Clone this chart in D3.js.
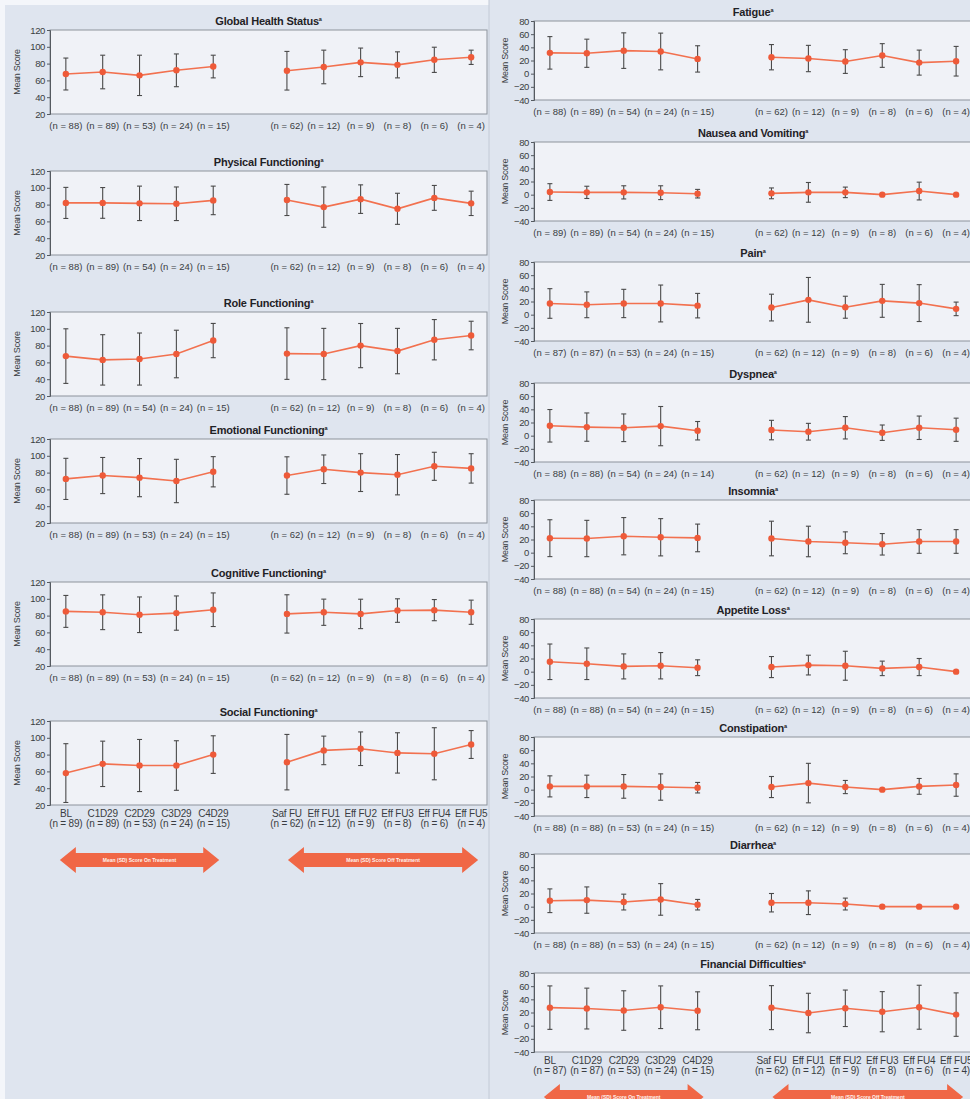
<!DOCTYPE html>
<html>
<head>
<meta charset="utf-8">
<script src="https://cdn.jsdelivr.net/npm/d3@7"></script>
<style>
  body { margin: 0; background: #ffffff; }
  svg { display: block; font-family: "Liberation Sans", Arial, sans-serif; }
</style>
</head>
<body>
<svg id="chart" width="970" height="1099"></svg>
<script>
// ---- Visits (x categories) ----
const onVisits = ["BL", "C1D29", "C2D29", "C3D29", "C4D29"];
const offVisits = ["Saf FU", "Eff FU1", "Eff FU2", "Eff FU3", "Eff FU4", "Eff FU5"];
const offN = [62, 12, 9, 8, 6, 4];

// ---- Tick labels ----
const functionTicks = [20, 40, 60, 80, 100, 120];
const symptomTicks = [-40, -20, 0, 20, 40, 60, 80];

// ---- Functional scales: mean, SD, on-treatment n ----
const ghsMean = [67.6, 70, 66, 72, 76.5, 71.5, 76, 81.5, 78.5, 84.5, 87.5];
const ghsSD   = [19, 20, 24, 19.5, 13.5, 23, 20, 17, 15.5, 15, 8.5];
const ghsN    = [88, 89, 53, 24, 15];

const physMean = [82, 82, 81.5, 81, 85, 85.5, 77, 86.5, 75, 88, 81.5];
const physSD   = [18.5, 18.3, 20.5, 20, 17, 18.5, 24, 17, 18.5, 14.8, 14.5];
const physN    = [88, 89, 54, 24, 15];

const roleMean = [67.5, 63, 64, 70, 86, 70.5, 70, 80, 73.5, 87, 92];
const roleSD   = [32.5, 30, 31, 28.3, 20.4, 30.7, 30.5, 26.3, 27, 24, 17];
const roleN    = [88, 89, 54, 24, 15];

const emoMean = [72.5, 76.5, 74, 70, 81, 76.5, 84, 80, 77.5, 87.5, 85];
const emoSD   = [24.5, 21.5, 22.7, 25.8, 18, 22.3, 17, 22.5, 24, 16.7, 17.5];
const emoN    = [88, 89, 53, 24, 15];

const cogMean = [85, 84, 81, 83, 87, 82, 84, 82, 86, 86.5, 84];
const cogSD   = [19, 20.7, 21.2, 20.4, 20, 22.8, 15.6, 17.5, 14, 12.6, 14.4];
const cogN    = [88, 89, 53, 24, 15];

const socMean = [58, 69, 67, 67, 80, 71, 85, 87, 82, 81, 92];
const socSD   = [35, 27, 31, 29.5, 22.4, 33, 17, 20, 24, 31, 16.6];
const socN    = [89, 89, 53, 24, 15];

// ---- Symptom scales ----
const fatMean = [31.6, 31, 35, 33.7, 22.4, 25, 23, 18.4, 27.6, 16.8, 18.9];
const fatSD   = [24.7, 21.4, 27, 27.9, 20, 19.2, 20, 18, 18, 19, 22.5];
const fatN    = [88, 89, 54, 24, 15];

const nvMean = [4, 3.5, 3.5, 3, 1.5, 2, 3.5, 3.5, 0, 5.5, 0];
const nvSD   = [12.7, 9.3, 10, 10.5, 6.5, 8.2, 15, 8, 0, 13.5, 0];
const nvN    = [89, 89, 54, 24, 15];

const painMean = [17, 15, 17, 17, 13.7, 10.8, 22.5, 11.3, 21, 17.6, 8.8];
const painSD   = [22.5, 19.6, 21.5, 28, 18.6, 20.3, 34, 16.7, 25, 28, 10.3];
const painN    = [87, 87, 53, 24, 15];

const dysMean = [15, 13, 12, 14.5, 7.5, 8.5, 6, 12, 4.5, 12, 9];
const dysSD   = [24.7, 21.5, 21, 29.8, 14, 14.8, 12.7, 17, 11.7, 17.8, 17.6];
const dysN    = [88, 88, 54, 24, 14];

const insMean = [22, 21.5, 25, 23.4, 22.4, 21.5, 17, 15, 12.7, 17, 17];
const insSD   = [28, 27.6, 28.3, 28.3, 21, 26.3, 23.2, 16.6, 16.3, 18, 18];
const insN    = [88, 88, 54, 24, 15];

const appMean = [15, 12, 8, 9, 6, 7, 10, 9, 5, 7, 0];
const appSD   = [27, 24, 19, 20, 12, 16, 15, 22, 11, 13, 0];
const appN    = [88, 88, 54, 24, 15];

const conMean = [5, 5, 5, 4, 3, 4, 10, 4, 0, 5, 7];
const conSD   = [16, 17, 18, 20, 8, 16, 30, 10, 0, 12, 17];
const conN    = [88, 88, 53, 24, 15];

const diaMean = [9, 10, 7, 11, 3, 6, 6, 4, 0, 0, 0];
const diaSD   = [18, 20, 12, 24, 8, 14, 18, 9, 0, 0, 0];
const diaN    = [88, 88, 53, 24, 15];

const finMean = [27.4, 26, 23, 28, 22.6, 27.4, 19.2, 26.4, 21.2, 28, 16.8];
const finSD   = [33, 31, 30, 32.4, 28.8, 33.4, 30, 27.7, 30.5, 33.4, 33];
const finN    = [87, 87, 53, 24, 15];

const arrowLabels = ["Mean (SD) Score On Treatment", "Mean (SD) Score Off Treatment"];

// ---- Panel definitions (content) ----
const leftPanels = [
  { title: "Global Health Status", mean: ghsMean, sd: ghsSD, n: ghsN },
  { title: "Physical Functioning", mean: physMean, sd: physSD, n: physN },
  { title: "Role Functioning", mean: roleMean, sd: roleSD, n: roleN },
  { title: "Emotional Functioning", mean: emoMean, sd: emoSD, n: emoN },
  { title: "Cognitive Functioning", mean: cogMean, sd: cogSD, n: cogN },
  { title: "Social Functioning", mean: socMean, sd: socSD, n: socN }
];
const rightPanels = [
  { title: "Fatigue", mean: fatMean, sd: fatSD, n: fatN },
  { title: "Nausea and Vomiting", mean: nvMean, sd: nvSD, n: nvN },
  { title: "Pain", mean: painMean, sd: painSD, n: painN },
  { title: "Dyspnea", mean: dysMean, sd: dysSD, n: dysN },
  { title: "Insomnia", mean: insMean, sd: insSD, n: insN },
  { title: "Appetite Loss", mean: appMean, sd: appSD, n: appN },
  { title: "Constipation", mean: conMean, sd: conSD, n: conN },
  { title: "Diarrhea", mean: diaMean, sd: diaSD, n: diaN },
  { title: "Financial Difficulties", mean: finMean, sd: finSD, n: finN }
];

// ---- Layout ----
const leftCol = { x0: 50, x1: 487, h: 84, tops: [30, 171, 312, 439, 582, 721],
                  domain: [20, 120], ticks: functionTicks, ylabX: 17, arrowY: 860 };
const rightCol = { x0: 534, x1: 972, h: 79, tops: [21, 142, 262, 383, 500, 619, 737, 854, 973],
                   domain: [-40, 80], ticks: symptomTicks, ylabX: 505, arrowY: 1097 };

const COLORS = {
  page: "#dfe5ef", plot: "#f0f2f7", frame: "#8d939c", axis: "#555a60",
  text: "#3a3d42", err: "#4a4a4a", line: "#f2714f", dot: "#ee5a39", arrow: "#f06746"
};

const svg = d3.select("#chart");

// backgrounds
svg.append("rect").attr("width", 970).attr("height", 1099).attr("fill", COLORS.page);
svg.append("rect").attr("x", 0).attr("y", 0).attr("width", 489).attr("height", 5).attr("fill", "#f4f6fa");
svg.append("rect").attr("x", 0).attr("y", 0).attr("width", 5).attr("height", 1099).attr("fill", "#f4f6fa");
svg.append("line").attr("x1", 489).attr("x2", 489).attr("y1", 0).attr("y2", 1099)
   .attr("stroke", "#c3cad6").attr("stroke-width", 1);

const slots = [...onVisits, "__gap__", ...offVisits];

function drawColumn(col, panels) {
  const x = d3.scalePoint().domain(slots).range([col.x0, col.x1]).padding(0.43);
  const onIdx = onVisits.map((_, i) => i);
  const offIdx = offVisits.map((_, i) => i + onVisits.length);
  const visitOf = i => i < onVisits.length ? onVisits[i] : offVisits[i - onVisits.length];

  panels.forEach((p, pi) => {
    const top = col.tops[pi];
    const y = d3.scaleLinear().domain(col.domain).range([top + col.h, top]);
    const g = svg.append("g");
    const isLast = pi === panels.length - 1;

    // plot area
    g.append("rect").attr("x", col.x0).attr("y", top).attr("width", col.x1 - col.x0)
      .attr("height", col.h).attr("fill", COLORS.plot)
      .attr("stroke", COLORS.frame).attr("stroke-width", 1);

    // y axis
    const ax = g.append("g").attr("transform", `translate(${col.x0},0)`)
      .call(d3.axisLeft(y).tickValues(col.ticks).tickSize(3).tickPadding(2));
    ax.select(".domain").attr("stroke", COLORS.axis);
    ax.selectAll(".tick line").attr("stroke", COLORS.axis);
    ax.selectAll(".tick text").attr("fill", COLORS.text)
      .style("font-size", "9.5px").style("letter-spacing", "-0.4px")
      .style("font-family", '"Liberation Sans", Arial, sans-serif');

    // y label
    g.append("text").attr("transform", `translate(${col.ylabX},${top + col.h / 2}) rotate(-90)`)
      .attr("text-anchor", "middle").attr("dy", "0.35em")
      .attr("fill", COLORS.text).style("font-size", "9px").style("letter-spacing", "-0.3px")
      .text("Mean Score");

    // title with superscript
    const t = g.append("text").attr("x", (col.x0 + col.x1) / 2)
      .attr("y", top - 5).attr("text-anchor", "middle")
      .attr("fill", "#1f2226").style("font-size", "11px").style("font-weight", "bold")
      .style("letter-spacing", "-0.2px");
    t.append("tspan").text(p.title);
    t.append("tspan").attr("dy", -4).style("font-size", "5.5px").text("a");

    const rows = p.mean.map((m, i) => ({ i, slot: visitOf(i), m, sd: p.sd[i] }));

    // error bars (mean ± SD)
    const eb = g.append("g").attr("stroke", COLORS.err).attr("stroke-width", 1.1);
    rows.filter(r => r.sd > 0).forEach(r => {
      const cx = x(r.slot);
      const y1 = y(r.m + r.sd), y2 = y(r.m - r.sd);
      eb.append("line").attr("x1", cx).attr("x2", cx).attr("y1", y1).attr("y2", y2);
      eb.append("line").attr("x1", cx - 2.5).attr("x2", cx + 2.5).attr("y1", y1).attr("y2", y1);
      eb.append("line").attr("x1", cx - 2.5).attr("x2", cx + 2.5).attr("y1", y2).attr("y2", y2);
    });

    // mean lines, on and off treatment drawn separately
    const line = d3.line().x(r => x(r.slot)).y(r => y(r.m));
    [onIdx, offIdx].forEach(idx => {
      g.append("path").datum(idx.map(i => rows[i])).attr("d", line)
        .attr("fill", "none").attr("stroke", COLORS.line).attr("stroke-width", 1.6);
    });

    // markers
    g.selectAll("circle.pt").data(rows).join("circle").attr("class", "pt")
      .attr("cx", r => x(r.slot)).attr("cy", r => y(r.m)).attr("r", 3.2)
      .attr("fill", COLORS.dot);

    // n labels (and visit names on the bottom panel)
    const nAll = [...p.n, ...offN];
    const baseY = top + col.h;
    rows.forEach(r => {
      const cx = x(r.slot);
      if (isLast) {
        g.append("text").attr("x", cx).attr("y", baseY + 12).attr("text-anchor", "middle")
          .attr("fill", COLORS.text).style("font-size", "10px").style("letter-spacing", "-0.2px")
          .text(r.slot);
        g.append("text").attr("x", cx).attr("y", baseY + 22).attr("text-anchor", "middle")
          .attr("fill", COLORS.text).style("font-size", "10px").style("letter-spacing", "-0.2px")
          .text(`(n = ${nAll[r.i]})`);
      } else {
        g.append("text").attr("x", cx).attr("y", baseY + 15).attr("text-anchor", "middle")
          .attr("fill", COLORS.text).style("font-size", "9.5px")
          .text(`(n = ${nAll[r.i]})`);
      }
    });
  });

  // treatment-phase arrows
  const spans = [
    [x(onVisits[0]) - 6, x(onVisits[onVisits.length - 1]) + 6],
    [x(offVisits[0]) + 1, x(offVisits[offVisits.length - 1]) + 7]
  ];
  spans.forEach((s, k) => {
    const [xa, xb] = s, cy = col.arrowY, hh = 13, bh = 7, hl = 16;
    const pts = [[xa, cy], [xa + hl, cy - hh], [xa + hl, cy - bh], [xb - hl, cy - bh], [xb - hl, cy - hh],
                 [xb, cy], [xb - hl, cy + hh], [xb - hl, cy + bh], [xa + hl, cy + bh], [xa + hl, cy + hh]];
    svg.append("path").attr("d", d3.line()(pts) + "Z").attr("fill", COLORS.arrow);
    svg.append("text").attr("x", (xa + xb) / 2).attr("y", cy + 1.8).attr("text-anchor", "middle")
      .attr("fill", "#fff3ee").style("font-size", "5px").style("font-weight", "bold")
      .text(arrowLabels[k]);
  });
}

drawColumn(leftCol, leftPanels);
drawColumn(rightCol, rightPanels);
</script>
</body>
</html>
